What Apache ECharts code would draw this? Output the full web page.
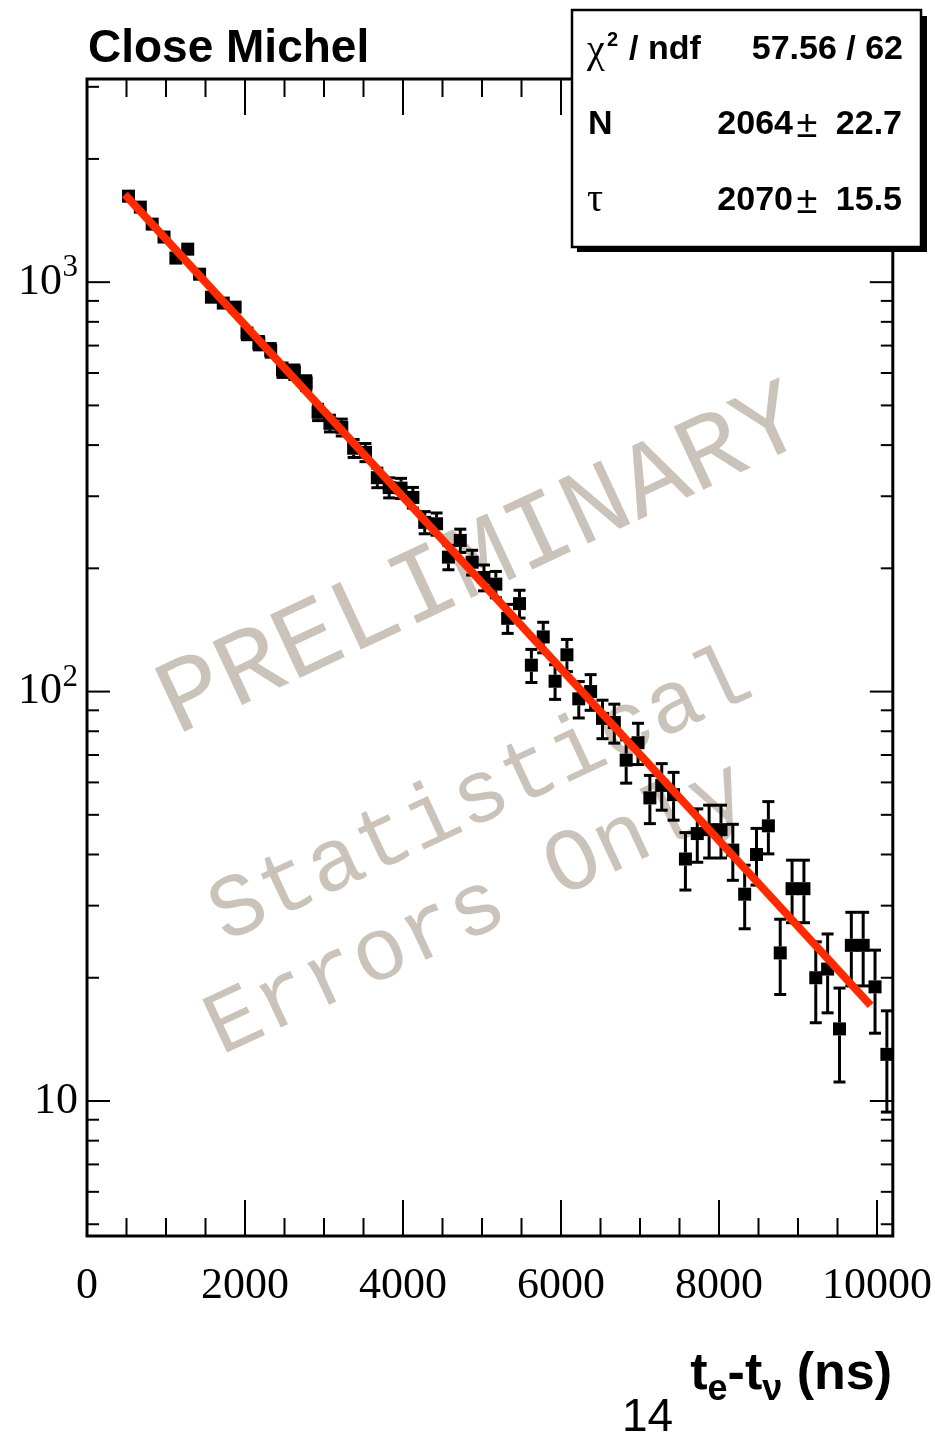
<!DOCTYPE html>
<html>
<head>
<meta charset="utf-8">
<script src="https://cdn.jsdelivr.net/npm/echarts@6/dist/echarts.min.js"></script>
<style>
  html, body { margin: 0; padding: 0; background: #fff; }
  #chart { width: 935px; height: 1432px; }
</style>
</head>
<body>
<div id="chart"></div>
<script>
// Bin centres of the t_e - t_nu histogram (ns), 150 ns bins
const binCenters = [
  525, 675, 825, 975, 1125, 1275, 1425, 1575, 1725, 1875,
  2025, 2175, 2325, 2475, 2625, 2775, 2925, 3075, 3225, 3375,
  3525, 3675, 3825, 3975, 4125, 4275, 4425, 4575, 4725, 4875,
  5025, 5175, 5325, 5475, 5625, 5775, 5925, 6075, 6225, 6375,
  6525, 6675, 6825, 6975, 7125, 7275, 7425, 7575, 7725, 7875,
  8025, 8175, 8325, 8475, 8625, 8775, 8925, 9075, 9225, 9375,
  9525, 9675, 9825, 9975, 10125
];
// Entries per bin (errors are Poisson, sqrt of the count)
const counts = [
  1622, 1525, 1386, 1289, 1145, 1204, 1046, 919, 889, 869,
  751, 710, 682, 610, 603, 567, 481, 452, 442, 393,
  384, 333, 315, 314, 298, 259, 257, 213, 234, 207,
  190, 183, 151, 164, 116, 136, 106, 123, 96, 100,
  86, 84, 68, 75, 55, 59, 56, 39, 45, 46,
  46, 41, 32, 40, 47, 23, 33, 33, 20, 21,
  15, 24, 24, 19, 13
];
// Exponential fit N * exp(-t / tau)
const fitN = 2064;
const fitTau = 2070;
const fitRange = [480, 9920];

// Axis ticks
const xMajorTicks = [0, 2000, 4000, 6000, 8000, 10000];
const xMinorTicks = [500, 1000, 1500, 2500, 3000, 3500, 4500, 5000, 5500,
  6500, 7000, 7500, 8500, 9000, 9500];
const yMajorTicks = [10, 100, 1000];
const yMinorTicks = [5, 6, 7, 8, 9, 20, 30, 40, 50, 60, 70, 80, 90,
  200, 300, 400, 500, 600, 700, 800, 900, 2000, 3000];

// Stats box rows
const statsLabels = ['N', 'τ'];
const statsValues = ['2064', '2070'];
const statsErrors = ['22.7', '15.5'];
const chi2Text = '57.56 / 62';

// x-axis title pieces: [text, isSubscript]
const xTitleParts = [['t', false], ['e', true], ['-t', false], ['ν', true], [' (ns)', false]];

const SANS = 'Liberation Sans, Arial, sans-serif';
const SERIF = 'Liberation Serif, Times New Roman, serif';
const MONO = 'Liberation Mono, Courier New, monospace';
const WM = '#cbc3b9';

const chart = echarts.init(document.getElementById('chart'), null, { renderer: 'canvas' });

function renderPoint(params, api) {
  const t = api.value(0), n = api.value(1);
  const err = Math.sqrt(n);
  const c = api.coord([t, n]);
  const top = api.coord([t, n + err])[1];
  const bot = api.coord([t, Math.max(n - err, 1e-3)])[1];
  const half = 6.5, cap = 6;
  const st = { stroke: '#000', lineWidth: 3 };
  const kids = [];
  if (c[1] - top > half) {
    kids.push({ type: 'line', shape: { x1: c[0], y1: c[1] - half, x2: c[0], y2: top }, style: st });
    kids.push({ type: 'line', shape: { x1: c[0] - cap, y1: top, x2: c[0] + cap, y2: top }, style: st });
  }
  if (bot - c[1] > half) {
    kids.push({ type: 'line', shape: { x1: c[0], y1: c[1] + half, x2: c[0], y2: bot }, style: st });
    kids.push({ type: 'line', shape: { x1: c[0] - cap, y1: bot, x2: c[0] + cap, y2: bot }, style: st });
  }
  kids.push({ type: 'rect', shape: { x: c[0] - half, y: c[1] - half, width: 2 * half, height: 2 * half }, style: { fill: '#000' } });
  return { type: 'group', children: kids };
}

function renderXTick(params, api) {
  const cs = params.coordSys;
  const px = api.coord([api.value(0), 100])[0];
  const len = api.value(2) ? 36 : 18;
  const st = { stroke: '#000', lineWidth: 2 };
  const yb = cs.y + cs.height;
  return { type: 'group', children: [
    { type: 'line', shape: { x1: px, y1: yb, x2: px, y2: yb - len }, style: st },
    { type: 'line', shape: { x1: px, y1: cs.y, x2: px, y2: cs.y + len }, style: st }
  ] };
}

// Ticks on both vertical edges; decade ticks also get a 10^n label
function renderYTick(params, api) {
  const cs = params.coordSys;
  const v = api.value(1);
  const py = api.coord([5000, v])[1];
  const major = api.value(2);
  const len = major ? 23 : 12;
  const st = { stroke: '#000', lineWidth: 2 };
  const xr = cs.x + cs.width;
  const kids = [
    { type: 'line', shape: { x1: cs.x, y1: py, x2: cs.x + len, y2: py }, style: st },
    { type: 'line', shape: { x1: xr, y1: py, x2: xr - len, y2: py }, style: st }
  ];
  if (major) {
    const e = Math.round(Math.log10(v));
    if (e === 1) {
      kids.push({ type: 'text', x: cs.x - 9, y: py, style: { text: '10', font: '44px ' + SERIF, fill: '#000', align: 'right', verticalAlign: 'middle' } });
    } else {
      kids.push({ type: 'text', x: cs.x - 25, y: py, style: { text: '10', font: '44px ' + SERIF, fill: '#000', align: 'right', verticalAlign: 'middle' } });
      kids.push({ type: 'text', x: cs.x - 9, y: py - 14, style: { text: String(e), font: '31px ' + SERIF, fill: '#000', align: 'right', verticalAlign: 'middle' } });
    }
  }
  return { type: 'group', children: kids };
}

// Lay out the x-axis title right-aligned, with lowered subscripts
function xTitleElements(rightX, midY) {
  const ctx = document.createElement('canvas').getContext('2d');
  const fonts = { main: 'bold 52px ' + SANS, sub: 'bold 36px ' + SANS };
  const widths = xTitleParts.map(([txt, sub]) => { ctx.font = sub ? fonts.sub : fonts.main; return ctx.measureText(txt).width; });
  let x = rightX - widths.reduce((a, b) => a + b, 0);
  return xTitleParts.map(([txt, sub], i) => {
    const el = { type: 'text', z: 100, x: x, y: sub ? midY + 15 : midY,
      style: { text: txt, font: sub ? fonts.sub : fonts.main, fill: '#000', align: 'left', verticalAlign: 'middle' } };
    x += widths[i];
    return el;
  });
}

const xTickData = xMajorTicks.map(v => [v, 100, 1]).concat(xMinorTicks.map(v => [v, 100, 0]));
const yTickData = yMajorTicks.map(v => [5000, v, 1]).concat(yMinorTicks.map(v => [5000, v, 0]));
const fitData = fitRange.map(t => [t, fitN * Math.exp(-t / fitTau)]);
const pointData = binCenters.map((t, i) => [t, counts[i]]);

const rot = 25 * Math.PI / 180;

const option = {
  animation: false,
  backgroundColor: '#fff',
  grid: {
    left: 87, top: 79, right: 42, bottom: 196,
    show: true, borderColor: '#000', borderWidth: 3, backgroundColor: 'transparent',
    containLabel: false
  },
  xAxis: {
    type: 'value', min: 0, max: 10200, interval: 2000,
    axisLine: { show: false }, axisTick: { show: false }, splitLine: { show: false },
    axisLabel: {
      fontFamily: SERIF, fontSize: 44, color: '#000', margin: 28,
      formatter: v => (v % 2000 === 0 ? String(v) : '')
    }
  },
  yAxis: {
    type: 'log', logBase: 10, min: 4.68, max: 3135,
    axisLine: { show: false }, axisTick: { show: false }, splitLine: { show: false },
    minorTick: { show: false },
    axisLabel: { show: false }
  },
  graphic: [
    // watermark
    { type: 'text', x: 482, y: 562, rotation: rot, z: 0, silent: true,
      style: { text: 'PRELIMINARY', font: '106px ' + MONO, fill: WM, align: 'center', verticalAlign: 'middle' } },
    { type: 'text', x: 481, y: 797, rotation: rot, z: 0, silent: true,
      style: { text: 'Statistical', font: '89px ' + MONO, fill: WM, align: 'center', verticalAlign: 'middle' } },
    { type: 'text', x: 477, y: 910, rotation: rot, z: 0, silent: true,
      style: { text: 'Errors Only', font: '89px ' + MONO, fill: WM, align: 'center', verticalAlign: 'middle' } },
    // title
    { type: 'text', x: 88, y: 49, z: 100,
      style: { text: 'Close Michel', font: 'bold 46px ' + SANS, fill: '#000', align: 'left', verticalAlign: 'middle' } },
    // x-axis title
    ...xTitleElements(892, 1375),
    // page number
    { type: 'text', x: 622, y: 1418, z: 100,
      style: { text: '14', font: '46px ' + SANS, fill: '#000', align: 'left', verticalAlign: 'middle' } },
    // stats box
    { type: 'group', z: 100, children: [
      { type: 'rect', z: 100, shape: { x: 577, y: 16, width: 350, height: 236 }, style: { fill: '#000' } },
      { type: 'rect', z: 101, shape: { x: 572, y: 10, width: 349, height: 237 }, style: { fill: '#fff', stroke: '#000', lineWidth: 2.5 } },
      { type: 'text', z: 102, x: 587, y: 51, style: { text: 'χ', font: '40px ' + SERIF, fill: '#000', align: 'left', verticalAlign: 'middle' } },
      { type: 'text', z: 102, x: 607, y: 40, style: { text: '2', font: 'bold 20px ' + SANS, fill: '#000', align: 'left', verticalAlign: 'middle' } },
      { type: 'text', z: 102, x: 629, y: 50, style: { text: '/ ndf', font: 'bold 34px ' + SANS, fill: '#000', align: 'left', verticalAlign: 'middle' } },
      { type: 'text', z: 102, x: 903, y: 50, style: { text: chi2Text, font: 'bold 34px ' + SANS, fill: '#000', align: 'right', verticalAlign: 'middle' } },
      { type: 'text', z: 102, x: 588, y: 125, style: { text: statsLabels[0], font: 'bold 34px ' + SANS, fill: '#000', align: 'left', verticalAlign: 'middle' } },
      { type: 'text', z: 102, x: 793, y: 125, style: { text: statsValues[0], font: 'bold 34px ' + SANS, fill: '#000', align: 'right', verticalAlign: 'middle' } },
      { type: 'text', z: 102, x: 807, y: 127, style: { text: '±', font: '38px ' + SANS, fill: '#000', align: 'center', verticalAlign: 'middle' } },
      { type: 'text', z: 102, x: 902, y: 125, style: { text: statsErrors[0], font: 'bold 34px ' + SANS, fill: '#000', align: 'right', verticalAlign: 'middle' } },
      { type: 'text', z: 102, x: 587, y: 200, style: { text: statsLabels[1], font: '40px ' + SERIF, fill: '#000', align: 'left', verticalAlign: 'middle' } },
      { type: 'text', z: 102, x: 793, y: 201, style: { text: statsValues[1], font: 'bold 34px ' + SANS, fill: '#000', align: 'right', verticalAlign: 'middle' } },
      { type: 'text', z: 102, x: 807, y: 203, style: { text: '±', font: '38px ' + SANS, fill: '#000', align: 'center', verticalAlign: 'middle' } },
      { type: 'text', z: 102, x: 902, y: 201, style: { text: statsErrors[1], font: 'bold 34px ' + SANS, fill: '#000', align: 'right', verticalAlign: 'middle' } }
    ] }
  ],
  series: [
    { type: 'custom', name: 'xTicks', silent: true, z: 3, renderItem: renderXTick, data: xTickData },
    { type: 'custom', name: 'yTicks', silent: true, z: 3, renderItem: renderYTick, data: yTickData },
    { type: 'custom', name: 'Close Michel', silent: true, z: 4, renderItem: renderPoint, data: pointData },
    {
      type: 'line', name: 'fit', silent: true, z: 5, data: fitData,
      showSymbol: false, symbol: 'none',
      lineStyle: { color: '#ff2a00', width: 8, cap: 'butt' }
    }
  ]
};

chart.setOption(option);
</script>
</body>
</html>
